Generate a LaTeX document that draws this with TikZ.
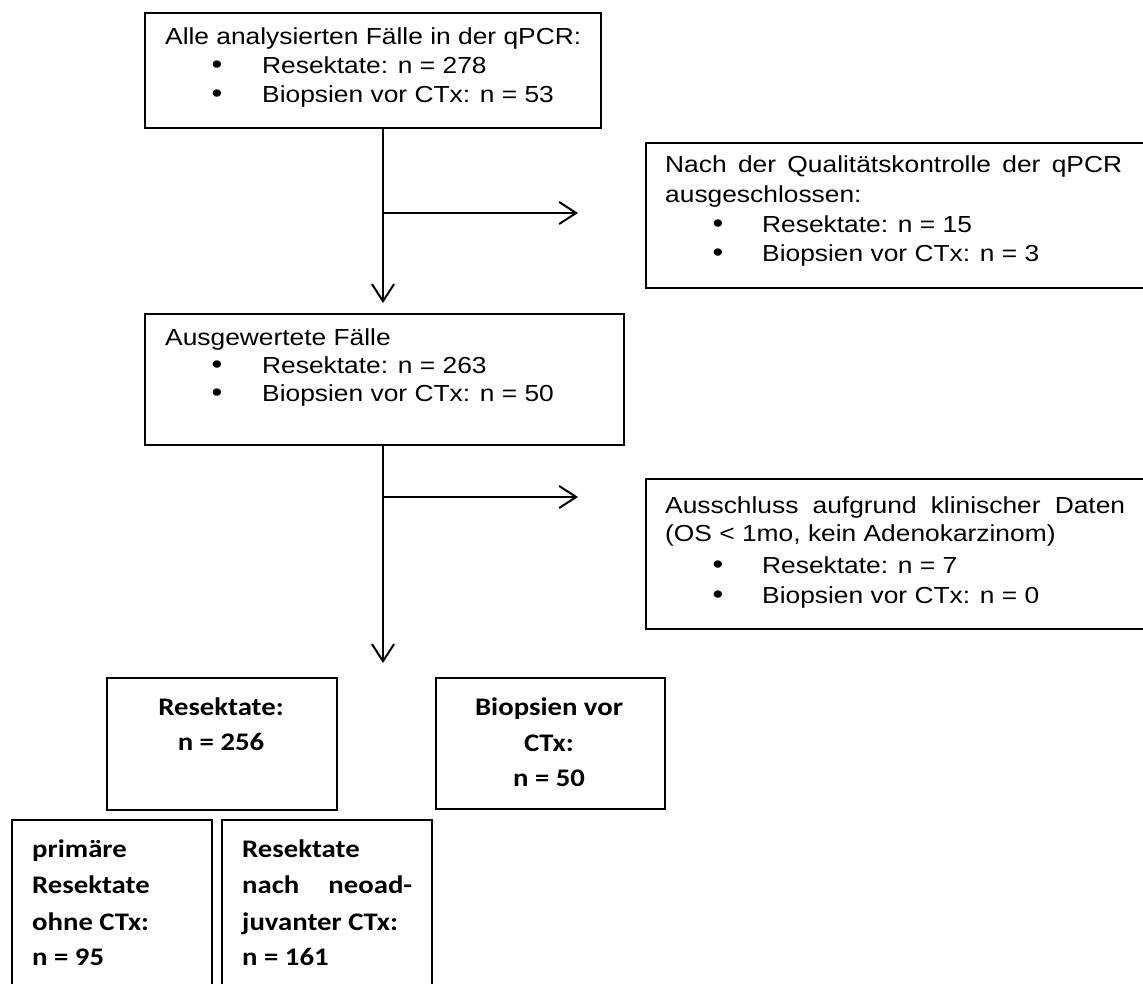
\documentclass[tikz,border=0pt]{standalone}
\usepackage{fontspec}
\setmainfont{Liberation Sans}[FakeStretch=1.136]
\newfontfamily\calfont{Carlito}[FakeStretch=1.136]
\usetikzlibrary{arrows.meta}
\begin{document}
\begin{tikzpicture}[x=1pt,y=-1pt,
  box/.style={draw, line width=2pt, rectangle, anchor=north west, inner sep=0pt},
  txt/.style={anchor=base west, inner sep=0pt, font=\fontsize{23.2}{27}\selectfont},
  ctxt/.style={anchor=base, inner sep=0pt, font=\calfont\bfseries\fontsize{25.3}{30}\selectfont},
  btxt/.style={anchor=base west, inner sep=0pt, font=\calfont\bfseries\fontsize{25.3}{30}\selectfont},
  bul/.style={anchor=base, inner sep=0pt, font=\fontsize{27}{27}\selectfont},
  arr/.style={line width=2pt, -{Straight Barb[length=17pt,width=22pt]}}]
\useasboundingbox (0,0) rectangle (1143,984);
\clip (0,0) rectangle (1143,984);

% boxes
\node[box, minimum width=456pt, minimum height=115pt] (b1) at (144,12) {};
\node[box, minimum width=479pt, minimum height=131pt] (b2) at (144,313) {};
\node[box, minimum width=540pt, minimum height=145pt] (b3) at (645,142) {};
\node[box, minimum width=540pt, minimum height=150pt] (b4) at (645,478) {};
\node[box, minimum width=230pt, minimum height=132pt] (b5) at (106,677) {};
\node[box, minimum width=229pt, minimum height=131pt] (b6) at (435,677) {};
\node[box, minimum width=200pt, minimum height=200pt] (b7) at (11,819) {};
\node[box, minimum width=210pt, minimum height=200pt] (b8) at (221,819) {};

% box 1 text
\node[txt] (h1) at (165,45) {Alle analysierten Fälle in der qPCR:};
\node[bul] (p1a) at (217,74) {•};
\node[txt] (l1a) at (262,74) {Resektate: n = 278};
\node[bul] (p1b) at (217,103) {•};
\node[txt] (l1b) at (262,103) {Biopsien vor CTx: n = 53};

% box 2 text
\node[txt] (h2) at (165,345) {Ausgewertete Fälle};
\node[bul] (p2a) at (217,373) {•};
\node[txt] (l2a) at (262,373) {Resektate: n = 263};
\node[bul] (p2b) at (217,401) {•};
\node[txt] (l2b) at (262,401) {Biopsien vor CTx: n = 50};

% box 3 text
\node[txt] (h3) at (665,173) {\hbox to 457pt{Nach\hfill der\hfill Qualitätskontrolle\hfill der\hfill qPCR}};
\node[txt] (h3b) at (665,203) {ausgeschlossen:};
\node[bul] (p3a) at (718,233) {•};
\node[txt] (l3a) at (762,233) {Resektate: n = 15};
\node[bul] (p3b) at (718,262) {•};
\node[txt] (l3b) at (762,262) {Biopsien vor CTx: n = 3};

% box 4 text
\node[txt] (h4) at (665,513) {\hbox to 460pt{Ausschluss\hfill aufgrund\hfill klinischer\hfill Daten}};
\node[txt] (h4b) at (665,541) {(OS < 1mo, kein Adenokarzinom)};
\node[bul] (p4a) at (718,573) {•};
\node[txt] (l4a) at (762,573) {Resektate: n = 7};
\node[bul] (p4b) at (718,603) {•};
\node[txt] (l4b) at (762,603) {Biopsien vor CTx: n = 0};

% box 5 / 6 text
\node[ctxt] (t5a) at (221,715) {Resektate:};
\node[ctxt] (t5b) at (221,750) {n = 256};
\node[ctxt] (t6a) at (549,715) {Biopsien vor};
\node[ctxt] (t6b) at (549,751) {CTx:};
\node[ctxt] (t6c) at (549,786) {n = 50};

% box 7 / 8 text
\node[btxt] (t7a) at (32,857) {primäre};
\node[btxt] (t7b) at (32,893) {Resektate};
\node[btxt] (t7c) at (32,930) {ohne CTx:};
\node[btxt] (t7d) at (32,965) {n = 95};
\node[btxt] (t8a) at (242,857) {Resektate};
\node[btxt] (t8b) at (242,893) {\hbox to 170pt{nach\hfill neoad-}};
\node[btxt] (t8c) at (242,930) {juvanter CTx:};
\node[btxt] (t8d) at (242,965) {n = 161};

% connectors
\coordinate (j1) at (383,213);
\coordinate (e1) at (578,213);
\coordinate (t1) at (383,303);
\coordinate (j2) at (383,497);
\coordinate (e2) at (578,497);
\coordinate (t2) at (383,663);
\draw[arr] (b1.south -| t1) -- (t1);
\draw[arr] (j1) -- (e1);
\draw[arr] (b2.south -| t2) -- (t2);
\draw[arr] (j2) -- (e2);
\end{tikzpicture}
\end{document}
